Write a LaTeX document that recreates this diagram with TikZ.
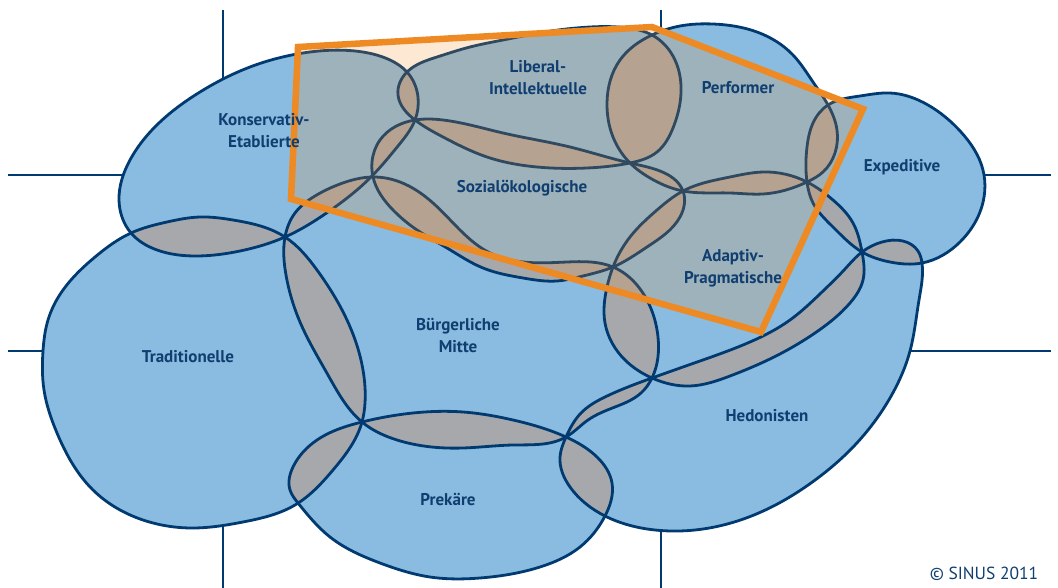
\documentclass[tikz,border=0pt]{standalone}
\usepackage{fontspec}
\setmainfont{PT Sans}
\usetikzlibrary{hobby}
\definecolor{blobfill}{RGB}{137,188,224}
\definecolor{lapfill}{RGB}{167,168,172}
\definecolor{navy}{RGB}{0,58,112}
\definecolor{txtnavy}{RGB}{16,62,112}
\definecolor{orangeline}{RGB}{238,138,36}
\tikzset{
  hob/.style={use Hobby shortcut, closed=true},
  outline/.style={hob, draw=navy, line width=2.8pt},
  gridline/.style={draw=navy, line width=2.2pt},
  lbl/.style={text=txtnavy, font=\fontsize{17}{22}\selectfont\bfseries, align=center, inner sep=0pt},
}
\newcommand\mylap[2]{\begin{scope}\clip[hob] #1; \fill[hob, lapfill] #2;\end{scope}}
\begin{document}
\begin{tikzpicture}[x=1pt,y=-1pt]
\useasboundingbox (0,0) rectangle (1058,588);
\def\pKE{(119,200) .. (130,160) .. (160,122) .. (200,92) .. (250,67) .. (303,53) .. (355,51) .. (390,60) .. (407,72) .. (418,97) .. (415,120) .. (398,146) .. (371,177) .. (328,212) .. (285,237) .. (240,251) .. (197,256) .. (157,250) .. (131,233)}
\def\pLI{(407,72) .. (437,57) .. (470,47) .. (503,40) .. (545,32) .. (590,27) .. (628,28) .. (652,35) .. (675,60) .. (681,93) .. (673,128) .. (657,152) .. (630,163) .. (587,168) .. (537,167) .. (487,157) .. (443,137) .. (415,120) .. (398,95)}
\def\pPER{(652,35) .. (680,26) .. (713,24) .. (757,32) .. (793,55) .. (813,82) .. (828,105) .. (837,130) .. (835,153) .. (823,172) .. (807,182) .. (763,194) .. (730,193) .. (683,191) .. (650,178) .. (630,163) .. (613,137) .. (607,103) .. (620,60)}
\def\pEXP{(828,105) .. (860,96) .. (890,93) .. (928,105) .. (961,132) .. (983,170) .. (980,212) .. (960,242) .. (922,263) .. (890,262) .. (862,252) .. (833,227) .. (813,203) .. (807,182) .. (807,147) .. (813,123)}
\def\pAP{(683,191) .. (730,177) .. (763,172) .. (807,182) .. (833,200) .. (853,223) .. (862,252) .. (863,280) .. (850,303) .. (815,333) .. (772,358) .. (730,376) .. (690,386) .. (652,378) .. (625,360) .. (605,323) .. (607,287) .. (613,267) .. (630,237) .. (657,210)}
\def\pSO{(415,120) .. (443,120) .. (503,133) .. (570,147) .. (630,163) .. (660,171) .. (683,191) .. (680,217) .. (647,247) .. (613,267) .. (583,276) .. (557,281) .. (523,278) .. (483,268) .. (447,248) .. (417,230) .. (393,210) .. (373,177) .. (372,162) .. (380,140)}
\def\pBM{(373,177) .. (400,182) .. (433,203) .. (460,230) .. (490,253) .. (523,262) .. (567,262) .. (613,267) .. (647,300) .. (658,337) .. (652,378) .. (641,393) .. (615,407) .. (588,420) .. (566,437) .. (513,445) .. (463,448) .. (397,440) .. (362,422) .. (328,375) .. (300,322) .. (286,275) .. (285,237) .. (295,213) .. (315,196) .. (340,184)}
\def\pTRA{(131,233) .. (95,257) .. (63,290) .. (48,320) .. (43,351) .. (44,390) .. (57,433) .. (93,490) .. (143,520) .. (193,528) .. (243,522) .. (295,505) .. (333,470) .. (362,422) .. (365,403) .. (363,370) .. (347,320) .. (317,270) .. (285,237) .. (233,220) .. (200,217) .. (167,222)}
\def\pPRE{(362,422) .. (413,413) .. (463,412) .. (513,420) .. (566,437) .. (597,457) .. (612,483) .. (605,516) .. (580,547) .. (540,567) .. (480,578) .. (430,577) .. (380,563) .. (330,537) .. (298,503) .. (290,490) .. (293,467) .. (317,440)}
\def\pHED{(862,252) .. (882,242) .. (903,241) .. (918,251) .. (922,263) .. (919,300) .. (910,351) .. (890,398) .. (855,445) .. (811,483) .. (761,512) .. (695,530) .. (655,530) .. (605,516) .. (570,487) .. (560,457) .. (566,437) .. (581,413) .. (605,397) .. (652,378) .. (700,361) .. (750,342) .. (790,320) .. (822,292) .. (845,269)}
% grid lines
\coordinate (gt1) at (223,10); \coordinate (gt1e) at (223,110);
\coordinate (gt2) at (661,10); \coordinate (gt2e) at (661,80);
\coordinate (gb1) at (223,588); \coordinate (gb1e) at (223,490);
\coordinate (gb2) at (661,588); \coordinate (gb2e) at (661,490);
\coordinate (gl1) at (8,175); \coordinate (gl1e) at (160,175);
\coordinate (gr1) at (1051,175); \coordinate (gr1e) at (940,175);
\coordinate (gl2) at (8,351); \coordinate (gl2e) at (90,351);
\coordinate (gr2) at (1051,351); \coordinate (gr2e) at (870,351);
\foreach \a in {gt1,gt2,gb1,gb2,gl1,gr1,gl2,gr2} \draw[gridline] (\a) -- (\a e);
% fills
\foreach \p in {\pKE,\pLI,\pPER,\pEXP,\pAP,\pSO,\pBM,\pTRA,\pPRE,\pHED} \fill[hob, blobfill] \p;
% overlaps
\mylap{\pKE}{\pLI}
\mylap{\pKE}{\pSO}
\mylap{\pKE}{\pBM}
\mylap{\pKE}{\pTRA}
\mylap{\pLI}{\pPER}
\mylap{\pLI}{\pSO}
\mylap{\pPER}{\pSO}
\mylap{\pPER}{\pAP}
\mylap{\pPER}{\pEXP}
\mylap{\pEXP}{\pAP}
\mylap{\pEXP}{\pHED}
\mylap{\pAP}{\pSO}
\mylap{\pAP}{\pBM}
\mylap{\pAP}{\pHED}
\mylap{\pSO}{\pBM}
\mylap{\pBM}{\pTRA}
\mylap{\pBM}{\pPRE}
\mylap{\pBM}{\pHED}
\mylap{\pTRA}{\pPRE}
\mylap{\pPRE}{\pHED}
% outlines
\foreach \p in {\pKE,\pLI,\pPER,\pEXP,\pAP,\pSO,\pBM,\pTRA,\pPRE,\pHED} \draw[outline] \p;
% orange frame
\coordinate (o1) at (298,47);
\coordinate (o2) at (652,27);
\coordinate (o3) at (863,109);
\coordinate (o4) at (761,332);
\coordinate (o5) at (291,199);
\fill[orangeline, fill opacity=0.2] (o1) -- (o2) -- (o3) -- (o4) -- (o5) -- cycle;
\draw[orangeline, line width=6.5pt, line join=miter] (o1) -- (o2) -- (o3) -- (o4) -- (o5) -- cycle;
% labels
\node[lbl] (ke) at (264,131) {Konservativ-\\Etablierte};
\node[lbl] (li) at (538,78) {Liberal-\\Intellektuelle};
\node[lbl] (per) at (738,88) {Performer};
\node[lbl] (exp) at (902,167) {Expeditive};
\node[lbl] (so) at (522,188) {Sozialökologische};
\node[lbl] (ap) at (733,268) {Adaptiv-\\Pragmatische};
\node[lbl] (bm) at (458,335) {Bürgerliche\\Mitte};
\node[lbl] (tra) at (188,357) {Traditionelle};
\node[lbl] (pre) at (448,499) {Prekäre};
\node[lbl] (hed) at (767,416) {Hedonisten};
\node[lbl, font=\fontsize{17.5}{18}\selectfont] (copy) at (984,574) {© SINUS 2011};
\end{tikzpicture}
\end{document}
